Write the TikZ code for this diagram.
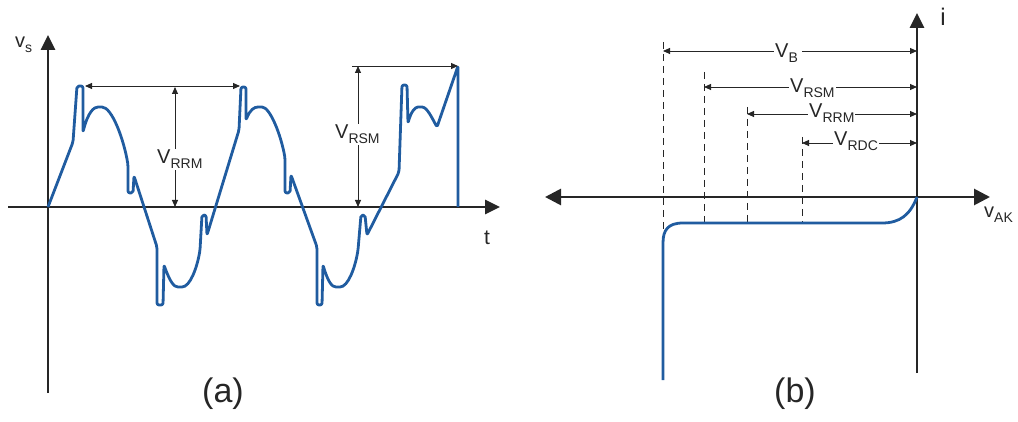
\documentclass[tikz,border=0pt]{standalone}
\usepackage{fontspec}
\setmainfont{Liberation Sans}
\usetikzlibrary{arrows.meta}
\definecolor{wave}{RGB}{32,92,160}
\definecolor{ink}{RGB}{38,38,38}
\newcommand{\lblsub}[2]{#1\raisebox{-5pt}{\fontsize{14}{14}\selectfont #2}}
\tikzset{
  axis/.style={ink, line width=2.8pt},
  dim/.style={ink, line width=0.9pt},
  guide/.style={ink, line width=0.9pt, dash pattern=on 7pt off 5pt},
  curve/.style={wave, line width=2.8pt, line join=round, rounded corners=2pt},
  lbl/.style={text=ink, font=\fontsize{20}{22}\selectfont, inner sep=1pt, fill=white, anchor=base west},
}
\begin{document}
\begin{tikzpicture}[x=1pt,y=-1pt]
\useasboundingbox (0,0) rectangle (1018,422);
% panel (a)
\coordinate (Oa) at (48,207);
\coordinate (ya) at (48,35);
\coordinate (yb) at (48,393);
\coordinate (xa) at (8,207);
\coordinate (xb) at (500,207);
\coordinate (rrmL) at (85,86);
\coordinate (rrmR) at (240,86);
\coordinate (rrmT) at (175,87);
\coordinate (rrmB) at (175,207);
\coordinate (rsmL) at (352,66);
\coordinate (rsmR) at (458,66);
\coordinate (rsmT) at (358,66);
\coordinate (rsmB) at (358,207);

\draw[axis, -{Triangle[length=15pt,width=14pt]}] (yb) -- (ya);
\draw[axis, -{Triangle[length=15pt,width=14pt]}] (xa) -- (xb);
\node[text=ink, font=\fontsize{20}{22}\selectfont, anchor=base west, inner sep=0pt] (vs) at (15,48) {\lblsub{v}{s}};
\node[text=ink, font=\fontsize{21}{22}\selectfont, inner sep=0pt] (t) at (487,238) {t};

\draw[curve] (Oa) -- (73,142) -- (77,86) -- (83,86) -- (83,132)
  .. controls (88,112) and (94,107) .. (100,107)
  .. controls (112,107) and (124,140) .. (128,165)
  -- (128,193) -- (133,193) -- (134,176)
  -- (157,247) -- (157,305) -- (163,305) -- (164,265)
  .. controls (170,282) and (174,287) .. (180,287)
  .. controls (190,287) and (197,268) .. (200,250)
  -- (202,215) -- (206,215) -- (207,235)
  -- (239,130) -- (241,87) -- (246,87) -- (246,120)
  .. controls (250,110) and (254,107) .. (260,107)
  .. controls (270,107) and (281,135) .. (285,158)
  -- (285,193) -- (290,193) -- (291,175)
  -- (317,247) -- (317,305) -- (322,305) -- (323,265)
  .. controls (328,282) and (332,287) .. (338,287)
  .. controls (348,287) and (355,268) .. (358,250)
  -- (361,215) -- (365,215) -- (367,235)
  -- (399,172) -- (402,85) -- (407,85) -- (408,123)
  .. controls (411,112) and (415,107) .. (420,107)
  .. controls (427,107) and (432,118) .. (437,127)
  -- (rsmR) -- (458,207);

\draw[dim, {Triangle[length=7pt,width=6pt]}-{Triangle[length=7pt,width=6pt]}] (rrmL) -- (rrmR);
\draw[dim, {Triangle[length=7pt,width=6pt]}-{Triangle[length=7pt,width=6pt]}] (rrmT) -- (rrmB);
\node[lbl] (vrrm) at (156,164) {\lblsub{V}{RRM}};
\draw[dim, -{Triangle[length=7pt,width=6pt]}] (rsmL) -- (rsmR);
\draw[dim, {Triangle[length=7pt,width=6pt]}-{Triangle[length=7pt,width=6pt]}] (rsmT) -- (rsmB);
\node[lbl] (vrsm) at (334,139) {\lblsub{V}{RSM}};
\node[text=ink, font=\fontsize{34}{36}\selectfont] (capa) at (223,394) {(a)};

% panel (b)
\coordinate (Ob) at (917,197);
\coordinate (ia) at (917,373);
\coordinate (ib) at (917,13);
\coordinate (va) at (545,197);
\coordinate (vb) at (990,197);
\coordinate (gB) at (663,42);
\coordinate (gS) at (704,72);
\coordinate (gR) at (747,107);
\coordinate (gD) at (802,137);

\draw[guide] (gB) -- (663,245);
\draw[guide] (gS) -- (704,223);
\draw[guide] (gR) -- (747,223);
\draw[guide] (gD) -- (802,223);

\draw[axis, -{Triangle[length=15pt,width=14pt]}] (ia) -- (ib);
\draw[axis, {Triangle[length=16pt,width=16pt]}-{Triangle[length=16pt,width=16pt]}] (va) -- (vb);
\node[text=ink, font=\fontsize{24}{26}\selectfont, inner sep=0pt] (i) at (943,17) {i};
\node[text=ink, font=\fontsize{20}{22}\selectfont, anchor=base west, inner sep=0pt] (vak) at (984,218) {\lblsub{v}{AK}};

\draw[curve] (Ob) .. controls (910,215) and (900,223) .. (880,223) -- (685,223)
  .. controls (668,223) and (663,230) .. (663,245) -- (663,380);

\draw[dim, {Triangle[length=7pt,width=6pt]}-{Triangle[length=7pt,width=6pt]}] (663,51) -- (917,51);
\draw[dim, {Triangle[length=7pt,width=6pt]}-{Triangle[length=7pt,width=6pt]}] (704,87) -- (917,87);
\draw[dim, {Triangle[length=7pt,width=6pt]}-{Triangle[length=7pt,width=6pt]}] (747,114) -- (917,114);
\draw[dim, {Triangle[length=7pt,width=6pt]}-{Triangle[length=7pt,width=6pt]}] (802,143) -- (917,143);
\node[lbl] (vB) at (774,58) {\lblsub{V}{B}\,};
\node[lbl] (vRSM) at (789,93) {\lblsub{V}{RSM}};
\node[lbl] (vRRM) at (808,118) {\lblsub{V}{RRM}};
\node[lbl] (vRDC) at (833,146) {\lblsub{V}{RDC}};
\node[text=ink, font=\fontsize{34}{36}\selectfont] (capb) at (795,394) {(b)};
\end{tikzpicture}
\end{document}
